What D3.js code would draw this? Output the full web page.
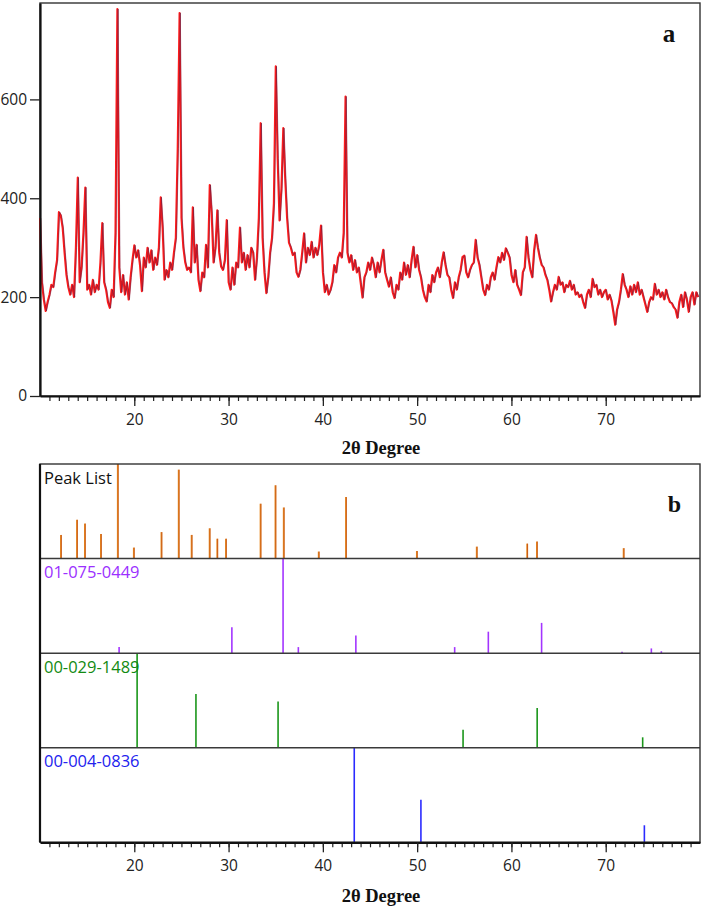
<!DOCTYPE html>
<html>
<head>
<meta charset="utf-8">
<script src="https://cdn.jsdelivr.net/npm/d3@7"></script>
<style>
  html, body { margin: 0; padding: 0; background: #fff; }
  svg { display: block; }
</style>
</head>
<body>
<svg id="chart" width="703" height="909"></svg>
<script>
// ---------------- DATA ----------------
// XRD pattern (a): 2θ sampled from 10.0° every 0.2°
const twoThetaStart = 10.0;
const twoThetaStep = 0.2;
const intensity = [
  360, 230, 195, 172, 190, 205, 225, 220, 250, 275,
  372, 365, 340, 290, 245, 220, 205, 225, 200, 300,
  442, 230, 260, 330, 422, 215, 225, 205, 235, 210,
  225, 215, 270, 350, 230, 215, 190, 178, 215, 200,
  330, 783, 260, 210, 245, 205, 230, 195, 240, 275,
  305, 280, 295, 265, 212, 280, 260, 300, 270, 295,
  255, 280, 265, 300, 402, 340, 235, 255, 240, 270,
  255, 290, 320, 500, 775, 360, 300, 270, 255, 260,
  250, 382, 270, 306, 235, 212, 250, 240, 306, 260,
  427, 370, 270, 300, 376, 290, 262, 255, 275, 356,
  230, 215, 260, 225, 270, 260, 341, 270, 290, 255,
  285, 260, 300, 290, 235, 280, 360, 552, 320, 250,
  208, 240, 290, 320, 390, 667, 480, 355, 420, 542,
  440, 360, 310, 300, 285, 290, 250, 241, 255, 290,
  329, 270, 300, 285, 312, 280, 300, 285, 305, 345,
  250, 210, 225, 205, 214, 230, 265, 250, 280, 290,
  280, 330, 606, 290, 270, 285, 255, 275, 250, 260,
  230, 199, 240, 250, 270, 255, 280, 265, 240, 270,
  250, 275, 296, 250, 235, 221, 240, 210, 198, 225,
  215, 250, 235, 270, 245, 265, 240, 275, 302, 260,
  285, 255, 240, 215, 200, 191, 225, 210, 245, 230,
  250, 260, 240, 270, 291, 265, 245, 240, 215, 198,
  230, 215, 240, 255, 281, 284, 250, 240, 255, 265,
  270, 316, 280, 265, 240, 215, 204, 225, 215, 240,
  250, 235, 260, 281, 270, 290, 275, 299, 290, 280,
  245, 230, 255, 225, 215, 204, 250, 260, 322, 280,
  255, 240, 295, 326, 300, 280, 265, 260, 245, 235,
  215, 191, 210, 225, 215, 241, 225, 230, 210, 225,
  220, 233, 215, 225, 205, 210, 200, 205, 190, 178,
  205, 215, 200, 237, 220, 225, 205, 215, 200, 210,
  215, 195, 205, 193, 170, 144, 175, 190, 215, 247,
  225, 215, 200, 222, 205, 225, 210, 230, 205, 215,
  200, 185, 170, 190, 200, 195, 227, 205, 215, 200,
  210, 195, 215, 200, 190, 188, 180, 175, 158, 190,
  205, 180, 210, 195, 170, 200, 210, 185, 210, 200
];
const yTicksA = [0, 200, 400, 600];
const xMajorTicks = [20, 30, 40, 50, 60, 70];
const xMinorTicks = d3.range(11, 80);

// Reference patterns (b): positions (2θ) and relative intensities (%)
const panelNames = ["Peak List", "01-075-0449", "00-029-1489", "00-004-0836"];
const panelColors = ["#e8891e", "#a335ff", "#1a961a", "#2b2bff"];
const labelColors = ["#111111", "#9b30ff", "#128a12", "#2222ee"];

const peakListPos = [12.22, 13.92, 14.76, 16.46, 18.25, 19.95, 22.88, 24.71, 26.08, 27.99, 28.80, 29.72, 33.39, 34.97, 35.85, 39.56, 42.45, 49.97, 56.32, 61.67, 62.70, 71.90];
const peakListInt = [25, 41, 37, 26, 100, 11.6, 28, 94, 25, 32, 21, 21, 58, 77.5, 54, 7.4, 65, 8, 12.6, 15.8, 18, 11];

const ref0449Pos = [18.39, 30.35, 35.78, 37.40, 43.50, 53.98, 57.55, 63.20, 71.73, 74.84, 75.90];
const ref0449Int = [6.4, 27.5, 100, 6.4, 18.7, 6.4, 22.7, 32, 1.5, 5, 2];

const ref1489Pos = [20.30, 26.54, 35.25, 54.87, 62.73, 73.92];
const ref1489Int = [100, 56.7, 49, 19, 42, 11];

const ref0836Pos = [43.33, 50.40, 74.10];
const ref0836Int = [100, 45, 18];

// ---------------- LAYOUT ----------------
const svg = d3.select("#chart");
const L = 40, R = 700;
const topA = 3, botA = 396;
const topB = 464, botB = 842.3;
const fontSans = "'Segoe UI', 'Open Sans', 'Noto Sans', sans-serif";
const fontSerif = "'Times New Roman', 'Liberation Serif', 'DejaVu Serif', serif";

const x = d3.scaleLinear().domain([10, 80]).range([L, R]);
const yA = d3.scaleLinear().domain([0, 795]).range([botA, topA]);

// ---------------- PANEL A ----------------
const gA = svg.append("g");
gA.append("rect").attr("x", L).attr("y", topA).attr("width", R - L).attr("height", botA - topA)
  .attr("fill", "none").attr("stroke", "#333").attr("stroke-width", 1.4);

const pts = intensity.map((v, i) => [twoThetaStart + i * twoThetaStep, v]);
const line = d3.line().x(d => x(d[0])).y(d => yA(d[1]));
gA.append("path").datum(pts).attr("d", line)
  .attr("fill", "none").attr("stroke", "#ff1a1a").attr("stroke-width", 2.0).attr("stroke-linejoin", "round");
gA.append("path").datum(pts).attr("d", line).attr("transform", "translate(0.8,0)")
  .attr("fill", "none").attr("stroke", "#6e1c40").attr("stroke-width", 0.7).attr("opacity", 0.85);

function drawXAxis(g, yPos) {
  const minor = g.append("g").attr("transform", `translate(0,${yPos})`)
    .call(d3.axisBottom(x).tickValues(xMinorTicks).tickSize(5).tickFormat(""));
  minor.select(".domain").remove();
  minor.selectAll("line").attr("stroke", "#222").attr("stroke-width", 1.2);
  const major = g.append("g").attr("transform", `translate(0,${yPos})`)
    .call(d3.axisBottom(x).tickValues(xMajorTicks).tickSize(10).tickSizeOuter(0).tickPadding(8));
  major.select(".domain").attr("stroke", "#111").attr("stroke-width", 2.2);
  major.selectAll("line").attr("stroke", "#222").attr("stroke-width", 1.3);
  major.selectAll("text").attr("font-family", fontSans).attr("font-size", 15.5).attr("fill", "#222");
}
drawXAxis(gA, botA);

const yAx = gA.append("g").attr("transform", `translate(${L},0)`)
  .call(d3.axisLeft(yA).tickValues(yTicksA).tickSize(10).tickSizeOuter(0).tickPadding(3));
yAx.select(".domain").attr("stroke", "#111").attr("stroke-width", 2.2);
yAx.selectAll("line").attr("stroke", "#222").attr("stroke-width", 1.3);
yAx.selectAll("text").attr("font-family", fontSans).attr("font-size", 15.5).attr("fill", "#222");

gA.append("text").attr("x", 669).attr("y", 42).attr("text-anchor", "middle")
  .attr("font-family", fontSerif).attr("font-weight", "bold").attr("font-size", 25).attr("fill", "#111").text("a");

svg.append("text").attr("x", 381).attr("y", 454).attr("text-anchor", "middle")
  .attr("font-family", fontSerif).attr("font-weight", "bold").attr("font-size", 18.5).attr("fill", "#111").text("2θ Degree");

// ---------------- PANEL B ----------------
const gB = svg.append("g");
const panelH = (botB - topB) / 4;
const stickSets = [
  [peakListPos, peakListInt],
  [ref0449Pos, ref0449Int],
  [ref1489Pos, ref1489Int],
  [ref0836Pos, ref0836Int]
];

stickSets.forEach((set, k) => {
  const pTop = topB + k * panelH, pBot = pTop + panelH;
  const yP = d3.scaleLinear().domain([0, 100]).range([pBot, pTop]);
  const data = set[0].map((p, i) => ({ p, v: set[1][i] }));
  const g = gB.append("g");
  g.selectAll("line.stick").data(data).join("line").attr("class", "stick")
    .attr("x1", d => x(d.p)).attr("x2", d => x(d.p))
    .attr("y1", yP(0)).attr("y2", d => yP(d.v))
    .attr("stroke", panelColors[k]).attr("stroke-width", k === 0 ? 1.8 : 1.6);
  if (k === 0) {
    g.selectAll("line.core").data(data).join("line").attr("class", "core")
      .attr("x1", d => x(d.p) + 0.4).attr("x2", d => x(d.p) + 0.4)
      .attr("y1", yP(0)).attr("y2", d => yP(d.v))
      .attr("stroke", "#b33a14").attr("stroke-width", 0.6);
  }
  g.append("text").attr("x", 44).attr("y", pTop + 19.5)
    .attr("font-family", fontSans).attr("font-size", 16.5).attr("fill", labelColors[k])
    .text(panelNames[k]);
  if (k > 0) {
    gB.append("line").attr("x1", L).attr("x2", R).attr("y1", pTop).attr("y2", pTop)
      .attr("stroke", "#3a3a3a").attr("stroke-width", 1.5);
  }
});

gB.append("rect").attr("x", L).attr("y", topB).attr("width", R - L).attr("height", botB - topB)
  .attr("fill", "none").attr("stroke", "#333").attr("stroke-width", 1.4);
gB.append("line").attr("x1", L).attr("x2", L).attr("y1", topB).attr("y2", botB)
  .attr("stroke", "#111").attr("stroke-width", 2.2);
drawXAxis(gB, botB);

gB.append("text").attr("x", 674.5).attr("y", 512).attr("text-anchor", "middle")
  .attr("font-family", fontSerif).attr("font-weight", "bold").attr("font-size", 24).attr("fill", "#111").text("b");

svg.append("text").attr("x", 381).attr("y", 902).attr("text-anchor", "middle")
  .attr("font-family", fontSerif).attr("font-weight", "bold").attr("font-size", 18.5).attr("fill", "#111").text("2θ Degree");
</script>
</body>
</html>
